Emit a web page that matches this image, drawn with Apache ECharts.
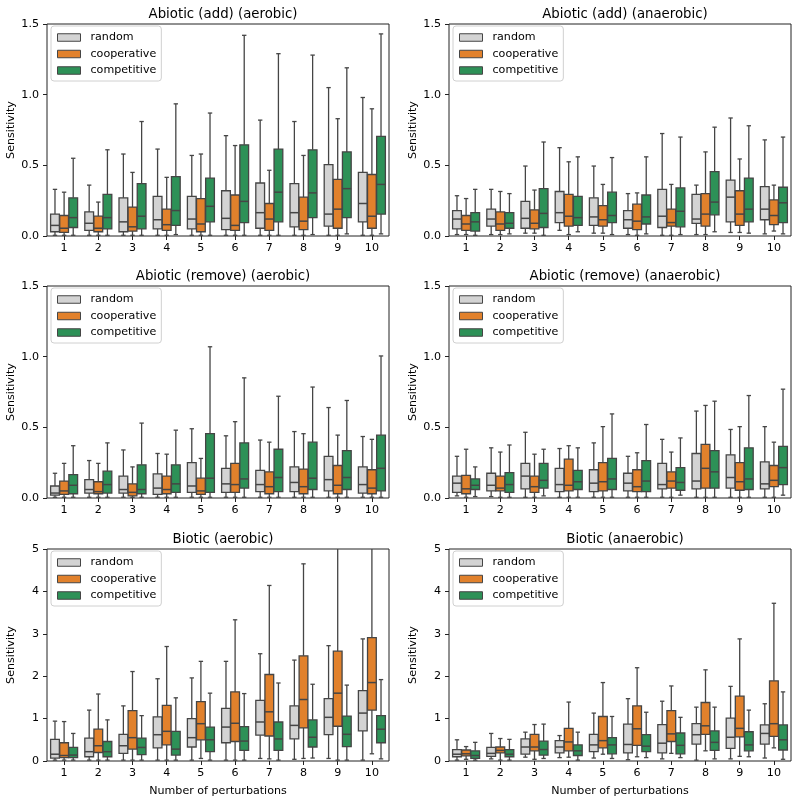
<!DOCTYPE html>
<html>
<head>
<meta charset="utf-8">
<script src="https://cdn.jsdelivr.net/npm/echarts@6/dist/echarts.min.js"></script>
<style>html,body{margin:0;padding:0;background:#fff}#chart{width:800px;height:802px}</style>
</head>
<body>
<div id="chart"></div>
<script>
// categories and hues
const categories = ['1','2','3','4','5','6','7','8','9','10'];
const hues = ['random','cooperative','competitive'];
const panelTitles = ['Abiotic (add) (aerobic)','Abiotic (add) (anaerobic)','Abiotic (remove) (aerobic)','Abiotic (remove) (anaerobic)','Biotic (aerobic)','Biotic (anaerobic)'];
const abioticTicks = [0, 0.5, 1.0, 1.5];
const bioticTicks = [0, 1, 2, 3, 4, 5];

// each entry: [min, q1, median, q3, max]
const addAerRandom = [[0.005,0.03,0.075,0.155,0.33],[0.005,0.04,0.09,0.17,0.36],[0.005,0.03,0.10,0.27,0.58],[0.005,0.05,0.115,0.28,0.615],[0.005,0.05,0.12,0.28,0.57],[0.005,0.045,0.125,0.32,0.71],[0.005,0.055,0.165,0.375,0.82],[0.005,0.065,0.165,0.37,0.81],[0.005,0.07,0.155,0.505,1.05],[0.005,0.10,0.23,0.45,0.98]];
const addAerCoop = [[0.005,0.025,0.055,0.145,0.31],[0.005,0.03,0.055,0.14,0.24],[0.005,0.035,0.065,0.205,0.45],[0.005,0.04,0.08,0.19,0.415],[0.005,0.03,0.085,0.265,0.58],[0.005,0.04,0.075,0.29,0.64],[0.005,0.04,0.12,0.23,0.465],[0.005,0.045,0.105,0.275,0.57],[0.005,0.055,0.19,0.40,0.83],[0.005,0.055,0.14,0.435,0.90]];
const addAerComp = [[0.005,0.06,0.13,0.27,0.55],[0.005,0.05,0.13,0.295,0.61],[0.005,0.05,0.14,0.37,0.81],[0.01,0.075,0.18,0.42,0.935],[0.005,0.10,0.21,0.41,0.87],[0.005,0.095,0.245,0.645,1.42],[0.005,0.10,0.31,0.615,1.29],[0.01,0.13,0.305,0.61,1.28],[0.015,0.13,0.335,0.595,1.19],[0.015,0.155,0.365,0.705,1.43]];

const addAnaRandom = [[0.01,0.05,0.12,0.18,0.285],[0.01,0.07,0.12,0.19,0.33],[0.02,0.055,0.125,0.245,0.495],[0.04,0.095,0.165,0.315,0.625],[0.02,0.075,0.135,0.27,0.495],[0.01,0.055,0.115,0.18,0.30],[0.005,0.06,0.14,0.33,0.725],[0.01,0.09,0.12,0.295,0.36],[0.025,0.10,0.275,0.395,0.835],[0.015,0.115,0.19,0.35,0.68]];
const addAnaCoop = [[0.01,0.04,0.085,0.145,0.265],[0.01,0.04,0.085,0.17,0.315],[0.02,0.05,0.09,0.185,0.325],[0.01,0.07,0.14,0.295,0.525],[0.02,0.07,0.115,0.215,0.365],[0.005,0.045,0.105,0.225,0.305],[0.005,0.07,0.095,0.19,0.365],[0.01,0.07,0.155,0.30,0.595],[0.025,0.075,0.155,0.32,0.545],[0.035,0.08,0.145,0.255,0.36]];
const addAnaComp = [[0.005,0.035,0.10,0.165,0.33],[0.015,0.055,0.09,0.165,0.30],[0.005,0.06,0.16,0.335,0.665],[0.03,0.075,0.13,0.28,0.56],[0.01,0.095,0.145,0.31,0.555],[0.015,0.085,0.135,0.29,0.56],[0.01,0.065,0.175,0.34,0.70],[0.03,0.15,0.24,0.455,0.77],[0.02,0.10,0.19,0.41,0.78],[0.015,0.095,0.235,0.345,0.70]];

const remAerRandom = [[0.005,0.02,0.035,0.085,0.175],[0.005,0.035,0.06,0.13,0.265],[0.005,0.035,0.06,0.155,0.34],[0.005,0.025,0.07,0.17,0.315],[0.005,0.04,0.085,0.25,0.49],[0.005,0.04,0.10,0.21,0.44],[0.005,0.045,0.095,0.195,0.41],[0.005,0.045,0.11,0.22,0.47],[0.005,0.05,0.13,0.295,0.64],[0.005,0.035,0.095,0.22,0.435]];
const remAerCoop = [[0.005,0.025,0.05,0.12,0.245],[0.005,0.03,0.045,0.115,0.245],[0.005,0.015,0.04,0.10,0.22],[0.005,0.03,0.06,0.155,0.31],[0.005,0.025,0.05,0.14,0.28],[0.005,0.04,0.095,0.245,0.54],[0.005,0.03,0.08,0.185,0.395],[0.005,0.03,0.08,0.205,0.455],[0.005,0.03,0.09,0.23,0.445],[0.005,0.03,0.07,0.20,0.415]];
const remAerComp = [[0.005,0.03,0.09,0.165,0.37],[0.005,0.035,0.095,0.19,0.39],[0.005,0.03,0.06,0.235,0.53],[0.005,0.04,0.10,0.235,0.48],[0.005,0.04,0.14,0.455,1.07],[0.005,0.07,0.135,0.39,0.85],[0.005,0.045,0.145,0.345,0.72],[0.005,0.06,0.14,0.395,0.785],[0.005,0.06,0.145,0.335,0.69],[0.005,0.05,0.21,0.445,1.005]];

const remAnaRandom = [[0.015,0.04,0.105,0.155,0.295],[0.01,0.05,0.09,0.175,0.355],[0.005,0.065,0.155,0.245,0.465],[0.005,0.045,0.095,0.21,0.35],[0.005,0.045,0.105,0.20,0.39],[0.005,0.05,0.105,0.175,0.295],[0.005,0.065,0.095,0.245,0.415],[0.005,0.065,0.12,0.315,0.615],[0.005,0.07,0.145,0.305,0.485],[0.005,0.065,0.10,0.255,0.505]];
const remAnaCoop = [[0.005,0.03,0.065,0.16,0.345],[0.005,0.05,0.07,0.155,0.325],[0.005,0.04,0.08,0.155,0.31],[0.005,0.05,0.09,0.275,0.37],[0.005,0.05,0.115,0.25,0.505],[0.005,0.045,0.08,0.20,0.32],[0.005,0.07,0.12,0.185,0.325],[0.005,0.07,0.21,0.38,0.655],[0.005,0.055,0.115,0.25,0.505],[0.005,0.08,0.125,0.23,0.395]];
const remAnaComp = [[0.01,0.06,0.09,0.135,0.22],[0.005,0.04,0.095,0.18,0.375],[0.015,0.07,0.125,0.245,0.345],[0.005,0.06,0.115,0.195,0.355],[0.005,0.06,0.135,0.28,0.595],[0.005,0.045,0.12,0.265,0.52],[0.02,0.055,0.11,0.215,0.425],[0.005,0.07,0.185,0.335,0.685],[0.005,0.06,0.135,0.355,0.725],[0.02,0.095,0.215,0.365,0.77]];

const bioAerRandom = [[0.02,0.07,0.16,0.51,0.94],[0.02,0.10,0.22,0.54,1.20],[0.02,0.18,0.36,0.63,1.30],[0.02,0.31,0.62,1.04,1.94],[0.02,0.33,0.55,1.00,1.96],[0.02,0.43,0.80,1.24,2.35],[0.06,0.61,0.92,1.43,2.53],[0.04,0.52,0.84,1.30,2.38],[0.06,0.62,1.03,1.47,2.72],[0.02,0.71,1.13,1.66,2.88]];
const bioAerCoop = [[0.02,0.08,0.13,0.43,0.93],[0.02,0.20,0.36,0.75,1.58],[0.02,0.28,0.55,1.19,2.11],[0.02,0.38,0.70,1.31,2.70],[0.06,0.50,0.88,1.40,2.35],[0.02,0.46,0.89,1.63,3.33],[0.05,0.59,1.16,2.04,4.14],[0.06,0.78,1.45,2.48,4.65],[0.02,0.82,1.60,2.59,5.5],[0.17,1.20,1.85,2.91,5.5]];
const bioAerComp = [[0.02,0.08,0.14,0.32,0.65],[0.02,0.10,0.22,0.46,0.97],[0.02,0.15,0.32,0.54,1.07],[0.02,0.14,0.28,0.70,1.49],[0.02,0.22,0.50,0.80,1.60],[0.02,0.25,0.47,0.81,1.59],[0.02,0.25,0.52,0.92,1.84],[0.07,0.33,0.56,0.97,1.81],[0.02,0.34,0.63,1.06,1.79],[0.05,0.43,0.75,1.07,1.92]];

const bioAnaRandom = [[0.02,0.10,0.16,0.27,0.50],[0.05,0.11,0.18,0.32,0.65],[0.09,0.16,0.33,0.52,0.68],[0.08,0.19,0.33,0.48,0.60],[0.07,0.22,0.38,0.63,1.13],[0.03,0.19,0.39,0.87,1.47],[0.05,0.19,0.42,0.86,1.41],[0.02,0.40,0.62,0.88,1.27],[0.05,0.30,0.56,1.01,1.76],[0.07,0.40,0.65,0.85,1.35]];
const bioAnaCoop = [[0.04,0.12,0.17,0.26,0.34],[0.02,0.19,0.25,0.33,0.53],[0.04,0.24,0.33,0.63,0.86],[0.09,0.24,0.45,0.77,1.39],[0.16,0.31,0.48,1.05,1.85],[0.10,0.37,0.76,1.30,2.20],[0.18,0.46,0.64,1.19,1.77],[0.24,0.63,0.83,1.38,2.15],[0.11,0.57,0.77,1.53,2.88],[0.31,0.58,0.88,1.89,3.72]];
const bioAnaComp = [[0.02,0.06,0.13,0.24,0.44],[0.02,0.10,0.16,0.27,0.51],[0.06,0.14,0.27,0.47,0.87],[0.02,0.13,0.24,0.38,0.68],[0.06,0.17,0.38,0.55,1.05],[0.08,0.22,0.35,0.62,1.15],[0.08,0.17,0.37,0.66,1.03],[0.05,0.25,0.44,0.71,1.27],[0.10,0.24,0.38,0.69,1.20],[0.04,0.26,0.50,0.85,1.63]];

const panelData = [
  [addAerRandom, addAerCoop, addAerComp],
  [addAnaRandom, addAnaCoop, addAnaComp],
  [remAerRandom, remAerCoop, remAerComp],
  [remAnaRandom, remAnaCoop, remAnaComp],
  [bioAerRandom, bioAerCoop, bioAerComp],
  [bioAnaRandom, bioAnaCoop, bioAnaComp]
];

const hueColors = ['#d3d3d3', '#e1812c', '#2d9157'];
const EDGE = '#454545';
const FONT = 'DejaVu Sans';

const colLeft = [47, 449];
const rowTop = [24, 286, 549];
const gridW = 342, gridH = 212;

function makeRender(h) {
  return function (params, api) {
    const cat = api.value(0);
    const base = api.coord([cat, 0]);
    const band = api.size([1, 0])[0];
    const each = band * 0.8 / 3;
    const cx = base[0] + (h - 1) * each;
    const w = each * 0.96;
    const y = (i) => api.coord([cat, api.value(i)])[1];
    const yMin = y(1), yQ1 = y(2), yMed = y(3), yQ3 = y(4), yMax = y(5);
    const ls = { stroke: EDGE, lineWidth: 1.3 };
    const cap = w * 0.25;
    return {
      type: 'group',
      children: [
        { type: 'line', shape: { x1: cx, y1: yQ3, x2: cx, y2: yMax }, style: ls },
        { type: 'line', shape: { x1: cx, y1: yQ1, x2: cx, y2: yMin }, style: ls },
        { type: 'line', shape: { x1: cx - cap, y1: yMax, x2: cx + cap, y2: yMax }, style: ls },
        { type: 'line', shape: { x1: cx - cap, y1: yMin, x2: cx + cap, y2: yMin }, style: ls },
        { type: 'rect', shape: { x: cx - w / 2, y: yQ3, width: w, height: yQ1 - yQ3 }, style: { fill: hueColors[h], stroke: EDGE, lineWidth: 1.3 } },
        { type: 'line', shape: { x1: cx - w / 2, y1: yMed, x2: cx + w / 2, y2: yMed }, style: { stroke: EDGE, lineWidth: 1.5 } }
      ]
    };
  };
}

const grids = [], xAxes = [], yAxes = [], titles = [], legends = [], series = [];
for (let p = 0; p < 6; p++) {
  const col = p % 2, row = Math.floor(p / 2);
  const left = colLeft[col], top = rowTop[row];
  const bio = row === 2;
  grids.push({ left: left, top: top, width: gridW, height: gridH, show: true, borderColor: '#222', borderWidth: 1, backgroundColor: 'transparent' });
  titles.push({ text: panelTitles[p], left: left + gridW / 2, top: top - 21, textAlign: 'center',
    textStyle: { fontFamily: FONT, fontSize: 13.3, fontWeight: 'normal', color: '#000' } });
  xAxes.push({
    type: 'category', gridIndex: p, data: categories, boundaryGap: true,
    axisLine: { show: false },
    axisTick: { show: true, alignWithLabel: true, length: 4, lineStyle: { color: '#222' } },
    axisLabel: { fontFamily: FONT, fontSize: 11.1, color: '#000', margin: 7 },
    splitLine: { show: false },
    name: bio ? 'Number of perturbations' : '', nameLocation: 'middle', nameGap: 25,
    nameTextStyle: { fontFamily: FONT, fontSize: 11.1, color: '#000' }
  });
  const ticks = bio ? bioticTicks : abioticTicks;
  yAxes.push({
    type: 'value', gridIndex: p, min: ticks[0], max: ticks[ticks.length - 1], interval: ticks[1] - ticks[0],
    axisLine: { show: false },
    axisTick: { show: true, length: 4, lineStyle: { color: '#222' } },
    axisLabel: { fontFamily: FONT, fontSize: 11.1, color: '#000', margin: 8,
      formatter: (v) => bio ? String(v) : v.toFixed(1) },
    splitLine: { show: false },
    name: 'Sensitivity', nameLocation: 'middle', nameGap: 30, nameRotate: 90,
    nameTextStyle: { fontFamily: FONT, fontSize: 11.1, color: '#000' }
  });
  legends.push({
    left: left + 4, top: top + 2, orient: 'vertical',
    itemWidth: 23, itemHeight: 7.5, itemGap: 5.5,
    padding: [6, 5, 5, 6],
    backgroundColor: 'rgba(255,255,255,0.85)', borderColor: '#d0d0d0', borderWidth: 1, borderRadius: 3,
    selectedMode: false,
    textStyle: { fontFamily: FONT, fontSize: 11.1, color: '#000', padding: [0, 0, 0, 5] },
    data: hues.map((n, h) => ({ name: n, icon: 'rect', itemStyle: { color: hueColors[h], borderColor: EDGE, borderWidth: 1 } }))
  });
  for (let h = 0; h < 3; h++) {
    series.push({
      type: 'custom', name: hues[h], xAxisIndex: p, yAxisIndex: p, clip: true,
      itemStyle: { color: hueColors[h] },
      encode: { x: 0, y: [1, 2, 3, 4, 5] },
      data: panelData[p][h].map((d, i) => [i].concat(d)),
      renderItem: makeRender(h)
    });
  }
}

const chart = echarts.init(document.getElementById('chart'), null, { renderer: 'canvas' });
chart.setOption({
  animation: false,
  backgroundColor: '#fff',
  title: titles, grid: grids, xAxis: xAxes, yAxis: yAxes, legend: legends, series: series
});
</script>
</body>
</html>
